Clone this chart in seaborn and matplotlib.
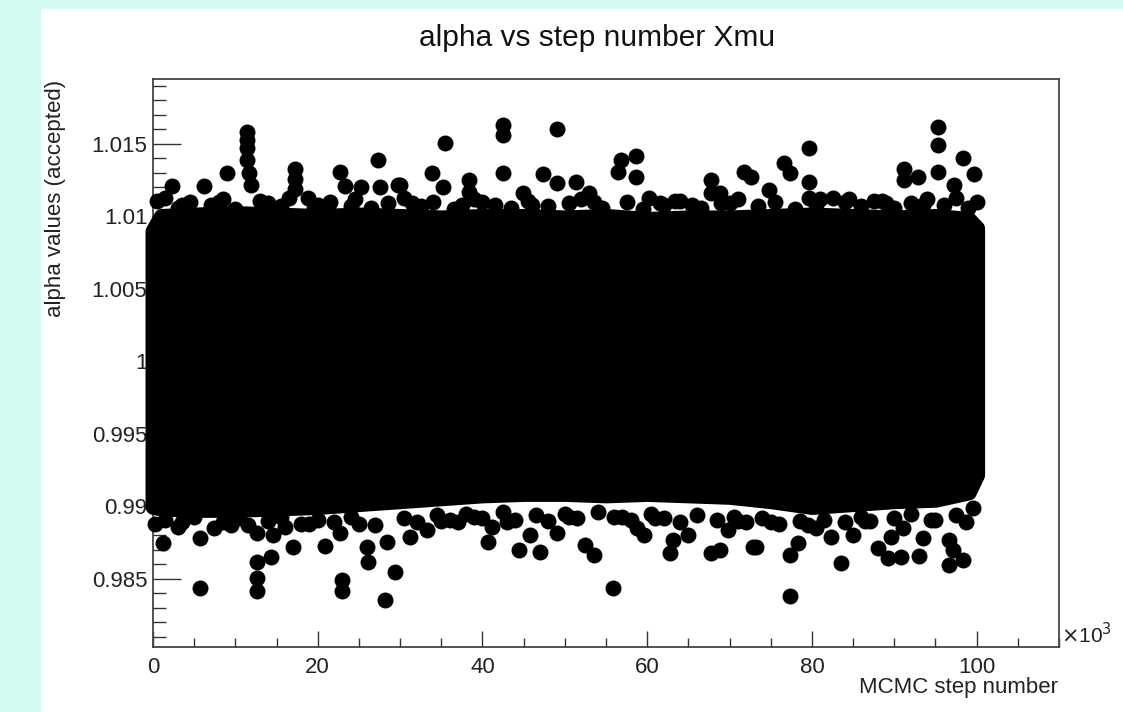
import matplotlib
matplotlib.use("Agg")
import matplotlib.pyplot as plt
import matplotlib.ticker as mticker
from matplotlib.patches import Rectangle
import numpy as np
import pandas as pd
import seaborn as sns

# dense core of the chain: upper / lower edge of point centres
core_step = [0, 1000, 5000, 10000, 15000, 20000, 25000, 30000, 35000, 40000, 45000, 50000,
             55000, 60000, 65000, 70000, 75000, 80000, 85000, 90000, 95000, 99000, 100000]
core_upper = [1.0090, 1.0100, 1.0101, 1.0102, 1.0101, 1.0100, 1.0101, 1.0100, 1.0099, 1.0100,
              1.0100, 1.0099, 1.0100, 1.0098, 1.0099, 1.0099, 1.0100, 1.0101, 1.0100, 1.0099,
              1.0100, 1.0098, 1.0092]
core_lower = [0.9900, 0.9899, 0.9898, 0.9898, 0.9899, 0.9900, 0.9902, 0.9904, 0.9906, 0.9908,
              0.9909, 0.9909, 0.9908, 0.9909, 0.9908, 0.9907, 0.9904, 0.9900, 0.9902, 0.9904,
              0.9905, 0.9910, 0.9922]

# accepted points sticking out above the core
high_step = [11400, 11400, 11400, 11400, 11600, 11900, 9000, 2300, 6200, 17300, 17300, 17300,
             18800, 22700, 23300, 27300, 25200, 27600, 29700, 33900, 35500, 30000, 35200,
             38400, 38400, 42500, 42500, 42500, 44900, 47400, 49000, 49100, 51300, 52900,
             56800, 56400, 58600, 58600, 60200, 63400, 67700, 67700, 68900, 71700, 72600,
             76600, 77400, 79600, 79600, 79600, 74800, 91200, 91200, 92900, 95300, 95300,
             95300, 98300, 99700, 97200]
high_alpha = [1.0158, 1.0153, 1.0147, 1.0139, 1.0130, 1.0122, 1.0130, 1.0121, 1.0121, 1.0133,
              1.0126, 1.0119, 1.0113, 1.0131, 1.0121, 1.0139, 1.0120, 1.0120, 1.0122, 1.0130,
              1.0151, 1.0122, 1.0120, 1.0125, 1.0117, 1.0163, 1.0156, 1.0130, 1.0116, 1.0129,
              1.0160, 1.0123, 1.0124, 1.0116, 1.0139, 1.0131, 1.0142, 1.0127, 1.0113, 1.0111,
              1.0125, 1.0116, 1.0116, 1.0131, 1.0127, 1.0137, 1.0130, 1.0147, 1.0124, 1.0113,
              1.0118, 1.0133, 1.0125, 1.0127, 1.0162, 1.0149, 1.0131, 1.0140, 1.0129, 1.0122]

# points forming the ragged top of the core
top_edge_step = [500, 1500, 3000, 3500, 4500, 7000, 8000, 8500, 10000, 13000, 14000, 15500,
                 16500, 19500, 20000, 21500, 24000, 24500, 26500, 28500, 30500, 31500, 32500,
                 34000, 36500, 37500, 39000, 40000, 41500, 43500, 45500, 46000, 48000, 50500,
                 52000, 53500, 54500, 57500, 59500, 61500, 62000, 64000, 65500, 66500, 69000,
                 70000, 71000, 73500, 75500, 78000, 80500, 81000, 82500, 84000, 84500, 86000,
                 87500, 88500, 89000, 90000, 92000, 93500, 94000, 96000, 97500, 99000, 100000]
top_edge_alpha = [1.0111, 1.0113, 1.0106, 1.0108, 1.0110, 1.0108, 1.0110, 1.0112, 1.0105, 1.0111,
                  1.0109, 1.0107, 1.0113, 1.0106, 1.0108, 1.0110, 1.0107, 1.0112, 1.0106, 1.0109,
                  1.0113, 1.0109, 1.0107, 1.0110, 1.0105, 1.0108, 1.0112, 1.0110, 1.0108, 1.0106,
                  1.0111, 1.0108, 1.0107, 1.0109, 1.0112, 1.0110, 1.0106, 1.0110, 1.0105, 1.0109,
                  1.0108, 1.0111, 1.0108, 1.0106, 1.0109, 1.0109, 1.0112, 1.0107, 1.0110, 1.0105,
                  1.0108, 1.0112, 1.0113, 1.0110, 1.0112, 1.0107, 1.0111, 1.0111, 1.0109, 1.0106,
                  1.0109, 1.0108, 1.0112, 1.0108, 1.0113, 1.0106, 1.0110]

# accepted points sticking out below the core
low_step = [1200, 5700, 7400, 5700, 12600, 12600, 12600, 14300, 12600, 14600, 17000, 20900,
            23000, 23000, 22700, 26100, 26000, 28200, 29400, 28400, 31200, 33300, 37000,
            40700, 41200, 44400, 47000, 45800, 49100, 52500, 53500, 55800, 59600, 58800,
            62800, 63100, 64900, 67700, 68900, 69800, 72900, 75000, 73200, 78300, 77400,
            82300, 83500, 77400, 85000, 88000, 89200, 90800, 89600, 91000, 93000, 93500,
            96600, 97100, 96600, 98300, 98700]
low_alpha = [0.9875, 0.9878, 0.9885, 0.9844, 0.9862, 0.9851, 0.9842, 0.9865, 0.9882, 0.9880,
             0.9872, 0.9873, 0.9849, 0.9842, 0.9882, 0.9862, 0.9872, 0.98355, 0.9855, 0.98755,
             0.9879, 0.9884, 0.9889, 0.98755, 0.9886, 0.9870, 0.98686, 0.9880, 0.98817, 0.98734,
             0.98666, 0.98438, 0.9880, 0.98852, 0.98679, 0.98769, 0.9880, 0.98679, 0.9870,
             0.98838, 0.98721, 0.98893, 0.98721, 0.98748, 0.98666, 0.9879, 0.9861, 0.98383,
             0.98803, 0.98714, 0.98645, 0.98652, 0.9879, 0.98852, 0.98659, 0.98783, 0.98769,
             0.9870, 0.98597, 0.98631, 0.98893]

# points forming the ragged bottom of the core
bottom_edge_step = [300, 1500, 3000, 3500, 5000, 8500, 9500, 10500, 11500, 14000, 15500, 16000,
                    18000, 19000, 20000, 22000, 24000, 25000, 27000, 30500, 32000, 34500, 35000,
                    36000, 38000, 39000, 40000, 42500, 43000, 44000, 46500, 48000, 50000, 50500,
                    51500, 54000, 56000, 57000, 58000, 60500, 61000, 62000, 64000, 66000, 68500,
                    70500, 71000, 72000, 74000, 76000, 78500, 79500, 80500, 81500, 84000, 86000,
                    86500, 87000, 90000, 92000, 94500, 95000, 97500, 99500]
bottom_edge_alpha = [0.9888, 0.9891, 0.9886, 0.9889, 0.9893, 0.9889, 0.9887, 0.9892, 0.9887,
                     0.9890, 0.9893, 0.9886, 0.9888, 0.9888, 0.9891, 0.9889, 0.9893, 0.9888,
                     0.9887, 0.9892, 0.9889, 0.9894, 0.9890, 0.9891, 0.9895, 0.9893, 0.9892,
                     0.9896, 0.9889, 0.9891, 0.9894, 0.9890, 0.9895, 0.9893, 0.9892, 0.9896,
                     0.9893, 0.9893, 0.9891, 0.9895, 0.9892, 0.9892, 0.9889, 0.9894, 0.9891,
                     0.9893, 0.9890, 0.9889, 0.9892, 0.9888, 0.9890, 0.9887, 0.9885, 0.9891,
                     0.9889, 0.9893, 0.9890, 0.9890, 0.9892, 0.9895, 0.9891, 0.9891, 0.9894,
                     0.9899]

y_major = [0.985, 0.99, 0.995, 1.0, 1.005, 1.01, 1.015]
y_labels = ["0.985", "0.99", "0.995", "1", "1.005", "1.01", "1.015"]
x_major = [0, 20000, 40000, 60000, 80000, 100000]
x_labels = ["0", "20", "40", "60", "80", "100"]

sns.set_theme(style="white")
plt.rcParams['font.family'] = ['Liberation Sans', 'DejaVu Sans']

W, H = 1123, 712
fig = plt.figure(figsize=(W / 100, H / 100), dpi=100)
fig.patch.set_facecolor('#d5fcf3')
fig.patches.append(Rectangle((41 / W, 0), 1 - 41 / W, (H - 9) / H, transform=fig.transFigure,
                             facecolor='white', edgecolor='none', zorder=-1))

ax = fig.add_axes([153 / W, (H - 647) / H, (1059 - 153) / W, (647 - 79) / H])
ax.set_facecolor('white')
ax.set_zorder(1)

df = pd.DataFrame({
    'step': high_step + top_edge_step + low_step + bottom_edge_step,
    'alpha': high_alpha + top_edge_alpha + low_alpha + bottom_edge_alpha,
})

# the solid core: a fill with a fat round outline the width of one marker
ax.fill_between(core_step, core_lower, core_upper, facecolor='black', edgecolor='black',
                linewidth=11.5, joinstyle='round', capstyle='round', zorder=3, clip_on=False)
sns.scatterplot(data=df, x='step', y='alpha', ax=ax, color='black', s=132, linewidth=0,
                zorder=4, clip_on=False, legend=False)

ax.set_xlim(0, 110000)
ax.set_ylim(0.98031, 1.01948)

ax.yaxis.set_major_locator(mticker.FixedLocator(y_major))
ax.yaxis.set_major_formatter(mticker.FixedFormatter(y_labels))
ax.yaxis.set_minor_locator(mticker.MultipleLocator(0.001))
ax.xaxis.set_major_locator(mticker.FixedLocator(x_major))
ax.xaxis.set_major_formatter(mticker.FixedFormatter(x_labels))
ax.xaxis.set_minor_locator(mticker.MultipleLocator(5000))

ax.tick_params(axis='both', which='both', direction='in', colors='#333333', width=1.0,
               bottom=True, left=True, top=False, right=False,
               labelsize=16, labelcolor='#222222')
ax.tick_params(axis='y', which='major', length=20, pad=4)
ax.tick_params(axis='y', which='minor', length=9)
ax.tick_params(axis='x', which='major', length=11.5, pad=7)
ax.tick_params(axis='x', which='minor', length=6.5)

for sp in ax.spines.values():
    sp.set_visible(True)
    sp.set_color('#444444')
    sp.set_linewidth(1.3)

ax.set_xlabel('')
ax.set_ylabel('')

fig.text(597 / W, (H - 38) / H, 'alpha vs step number Xmu', ha='center', va='center',
         fontsize=21.5, color='#111111')
fig.text(1058 / W, (H - 688) / H, 'MCMC step number', ha='right', va='center',
         fontsize=16, color='#222222')
fig.text(55 / W, (H - 80) / H, 'alpha values (accepted)', ha='center', va='top',
         rotation=90, fontsize=16, color='#222222')
fig.text(1061 / W, (H - 647) / H, r'$\times$10$^{3}$', ha='left', va='bottom',
         fontsize=15, color='#222222')

fig.savefig('out.png', dpi=100)
